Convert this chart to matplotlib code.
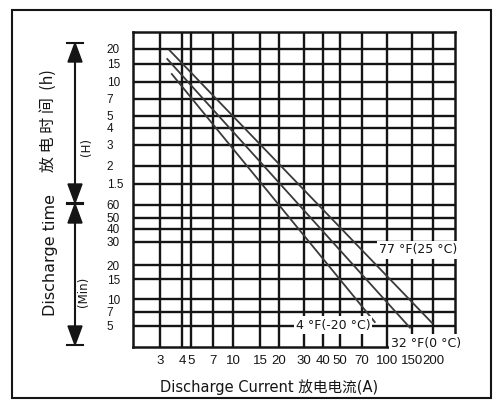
"""
Discharge time vs discharge current, three temperatures.
The sheet's grid is hand drawn (roughly log-log but uneven), so the axes
use a piecewise log scale pinned to the printed grid lines.
"""
import numpy as np
import matplotlib
matplotlib.use("Agg")
import matplotlib.pyplot as plt
from matplotlib.patches import Polygon, Rectangle

# ---- data -----------------------------------------------------------
current_ticks = [3, 4, 5, 7, 10, 15, 20, 30, 40, 50, 70, 100, 150, 200]
current_labels = ["3", "4", "5", "7", "10", "15", "20", "30", "40", "50",
                  "70", "100", "150", "200"]
hour_ticks = [20, 15, 10, 7, 5, 4, 3, 2, 1.5]
hour_labels = ["20", "15", "10", "7", "5", "4", "3", "2", "1.5"]
minute_ticks = [60, 50, 40, 30, 20, 15, 10, 7, 5]
minute_labels = ["60", "50", "40", "30", "20", "15", "10", "7", "5"]

# curves: current (A) -> discharge time (min)
temp_labels = ["77 °F(25 °C)", "32 °F(0 °C)", "4 °F(-20 °C)"]
current_77f = [3.4, 197]
time_77f = [1170, 5.4]
current_32f = [3.3, 145]
time_32f = [990, 4.8]
current_4f = [3.5, 84]
time_4f = [718, 5.5]

# ---- uneven grid of the printed chart (values -> grid position) -----
X_SCALE_VALS = [2] + current_ticks + [300]
X_SCALE_POS = [0, 27, 49, 58, 80, 100, 127, 146, 171, 190, 207, 229,
               254, 279, 300, 322]
Y_SCALE_VALS = [3, 5, 7, 10, 15, 20, 30, 40, 50, 60, 90, 120, 180, 240,
                300, 420, 600, 900, 1200, 1800]
Y_SCALE_POS = [0, 21, 35, 48, 68, 82, 105, 118, 129, 142, 163, 181, 202,
               219, 231, 248, 265, 283, 298, 315]


def piecewise_log(vals, pos):
    lv = np.log10(np.asarray(vals, float))
    p = np.asarray(pos, float)

    def fwd(v):
        v = np.clip(np.asarray(v, float), 1e-6, None)
        return np.interp(np.log10(v), lv, p)

    def inv(q):
        return 10 ** np.interp(q, p, lv)

    return fwd, inv


plt.rcParams["font.family"] = ["DejaVu Sans", "Noto Sans CJK SC"]
W, H = 502, 409
fig = plt.figure(figsize=(W / 100, H / 100), dpi=100, facecolor="white")

# main chart area in pixels: x 133..455, y 32..347
ax = fig.add_axes([133 / W, (H - 347) / H, 322 / W, 315 / H])
ax.set_xscale("function", functions=piecewise_log(X_SCALE_VALS, X_SCALE_POS))
ax.set_yscale("function", functions=piecewise_log(Y_SCALE_VALS, Y_SCALE_POS))
ax.set_xlim(X_SCALE_VALS[0], X_SCALE_VALS[-1])
ax.set_ylim(Y_SCALE_VALS[0], Y_SCALE_VALS[-1])

ax.set_xticks(current_ticks)
ax.set_xticklabels(current_labels)
y_ticks = [h * 60 for h in hour_ticks] + minute_ticks
ax.set_yticks(y_ticks)
ax.set_yticklabels(hour_labels + minute_labels)
ax.minorticks_off()

ax.set_axisbelow(True)
ax.grid(True, color="#151515", lw=1.7)
for sp in ax.spines.values():
    sp.set_linewidth(1.8)
    sp.set_color("#151515")

ax.tick_params(axis="x", length=0, pad=6, labelsize=9.5, colors="#151515")
ax.tick_params(axis="y", length=0, pad=19, labelsize=8.5, colors="#151515")
for lab in ax.get_xticklabels():
    lab.set_fontfamily(["Liberation Sans", "DejaVu Sans"])
for lab in ax.get_yticklabels():
    lab.set_horizontalalignment("left")
    lab.set_fontfamily(["Liberation Sans", "DejaVu Sans"])

for cur, t in [(current_77f, time_77f), (current_32f, time_32f),
               (current_4f, time_4f)]:
    ax.plot(cur, t, color="#3a3a3a", lw=1.3, zorder=2)

# ---- overlay in pixel coordinates for labels, arrows, frame ---------
ov = fig.add_axes([0, 0, 1, 1], zorder=5)
ov.set_xlim(0, W)
ov.set_ylim(H, 0)
ov.set_axis_off()

ov.add_patch(Rectangle((12, 10), 479, 388, fill=False, lw=1.5,
                       edgecolor="#151515"))

box = dict(facecolor="white", edgecolor="none", pad=1.5)
ov.text(418, 250, temp_labels[0], fontsize=9, ha="center", va="center",
        bbox=box, color="#151515")
ov.text(426, 343, temp_labels[1], fontsize=9, ha="center", va="center",
        bbox=box, color="#151515")
ov.text(333, 325, temp_labels[2], fontsize=9, ha="center", va="center",
        bbox=box, color="#151515")


def double_arrow(x, y0, y1, head_len=19, head_w=7):
    ov.plot([x, x], [y0 + 5, y1 - 5], color="#151515", lw=1.5)
    for y in (y0, y1):
        ov.plot([x - 8, x + 8], [y, y], color="#151515", lw=1.5)
    ov.add_patch(Polygon([[x, y0], [x - head_w, y0 + head_len],
                          [x + head_w, y0 + head_len]], color="#151515"))
    ov.add_patch(Polygon([[x, y1], [x - head_w, y1 - head_len],
                          [x + head_w, y1 - head_len]], color="#151515"))


double_arrow(75, 43, 203)
double_arrow(75, 204, 345)

ov.text(48, 121, "放 电 时 间  (h)", rotation=90, fontsize=11.5,
        ha="center", va="center", color="#151515",
        family=["Noto Sans CJK SC", "DejaVu Sans"])
ov.text(51, 255, "Discharge time", rotation=90, fontsize=11.5,
        ha="center", va="center", color="#151515")
ov.text(87, 147, "(H)", rotation=90, fontsize=8.5, ha="center",
        va="center", color="#151515")
ov.text(84, 292, "(Min)", rotation=90, fontsize=8.5, ha="center",
        va="center", color="#151515")
ov.text(269, 387, "Discharge Current 放电电流(A)", fontsize=10.5,
        ha="center", va="center", color="#151515",
        family=["DejaVu Sans", "Noto Sans CJK SC"])

fig.savefig("out.png", dpi=100)
